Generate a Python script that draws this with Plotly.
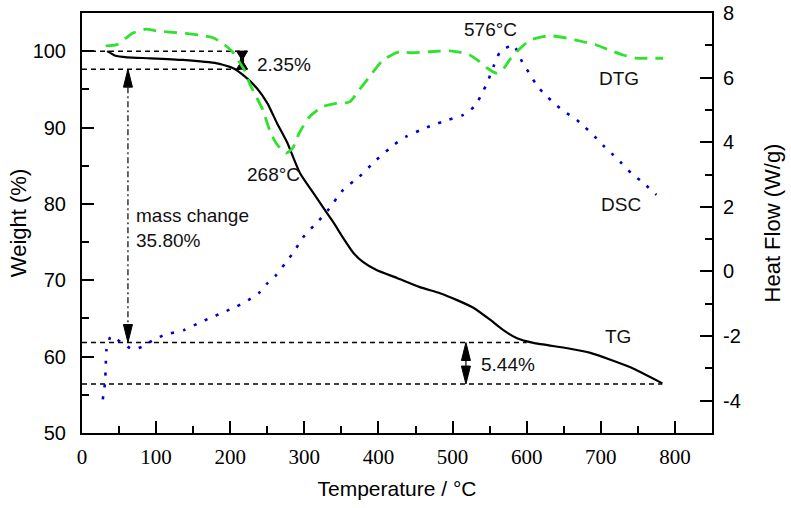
import plotly.graph_objects as go

# ---------------- data ----------------
tg_temp = [34, 45, 61, 92, 136, 182, 204, 220, 236, 250, 263, 277, 294, 313, 339,
           352, 366, 379, 398, 425, 456, 483, 506, 528, 551, 568, 587, 609, 655, 686,
           713, 740, 783]
tg_weight = [100.0, 99.4, 99.2, 99.07, 98.85, 98.4, 97.76, 96.66, 95.14, 93.2, 90.6, 88.0,
             84.05, 81.3, 77.6, 75.6, 73.6, 72.4, 71.3, 70.3, 69.1, 68.3, 67.4, 66.4,
             64.8, 63.5, 62.4, 61.8, 61.1, 60.5, 59.6, 58.6, 56.5]

dtg_temp = [32, 48, 59, 68, 86, 100, 122, 140, 158, 176, 190, 203, 212, 219, 226, 235,
            244, 253, 262, 275, 284, 293, 307, 325, 343, 361, 374, 388, 406, 428, 442,
            469, 496, 509, 523, 536, 547, 559, 566, 578, 591, 604, 622, 635, 654, 676,
            694, 712, 730, 748, 762, 784]
dtg_value = [6.98, 7.03, 7.22, 7.37, 7.50, 7.45, 7.40, 7.37, 7.32, 7.24, 7.06, 6.80, 6.49,
             6.24, 5.82, 5.41, 5.00, 4.38, 3.97, 3.66, 3.81, 4.28, 4.79, 5.10, 5.20, 5.25,
             5.62, 6.03, 6.54, 6.80, 6.77, 6.80, 6.83, 6.79, 6.70, 6.50, 6.29, 6.14, 6.20,
             6.58, 6.90, 7.15, 7.27, 7.29, 7.22, 7.11, 7.01, 6.85, 6.70, 6.60, 6.60, 6.60]

dsc_temp = [28, 31, 32, 33, 39, 52, 68, 81, 100, 118, 138, 158, 174, 192, 208, 224, 239,
            250, 262, 274, 286, 298, 320, 332, 352, 374, 397, 422, 437, 457, 473, 494,
            514, 530, 540, 547, 555, 564, 582, 594, 605, 615, 628, 640, 651, 665, 678,
            692, 705, 717, 728, 741, 757, 775]
dsc_value = [-3.96, -3.46, -2.95, -2.43, -2.0, -2.18, -2.41, -2.33, -2.07, -1.92, -1.81,
             -1.59, -1.43, -1.25, -1.09, -0.89, -0.66, -0.37, -0.11, 0.25, 0.61, 1.05,
             1.59, 1.90, 2.52, 2.93, 3.45, 3.94, 4.17, 4.38, 4.53, 4.69, 4.84, 5.12, 5.52,
             5.86, 6.33, 6.79, 7.01, 6.48, 6.08, 5.71, 5.40, 5.15, 4.94, 4.74, 4.48, 4.17,
             3.86, 3.60, 3.35, 3.04, 2.75, 2.37]

# axis ticks
x_ticks = [0, 100, 200, 300, 400, 500, 600, 700, 800]
y_ticks = [50, 60, 70, 80, 90, 100]
y2_ticks = [-4, -2, 0, 2, 4, 6, 8]
y2_tick_labels = ["-4", "-2", "0", "2", "4", "6", "8"]

# dashed reference levels (weight %) and where they end (temperature)
ref_levels = [100.0, 97.65, 61.85, 56.41]
ref_end_temp = [223, 223, 600, 783]

# measurement arrows: temperature, upper level, lower level, head direction
arrow_temp = [216, 62, 518]
arrow_hi = [100.0, 97.65, 61.85]
arrow_lo = [97.65, 61.85, 56.41]
arrow_kind = ["inward", "outward", "outward"]
arrow_stem = ["none", "dashdot", "solid"]

# text labels
label_text = ["2.35%", "268°C", "mass change<br>35.80%", "576°C", "DTG", "DSC", "TG", "5.44%"]
label_temp = [272, 258, 70, 551, 724, 727, 723, 575]
label_weight = [98.2, 83.9, 76.8, 102.8, 96.4, 79.9, 62.7, 59.0]
label_anchor = ["center", "center", "left", "center", "center", "center", "center", "center"]

x_range = [0, 850]
y_range = [50, 105]
y2_range = [-5, 8]

# ---------------- figure ----------------
W, H = 791, 508
ML, MR, MT, MB = 82, 79, 13, 75
px_per_T = (W - ML - MR) / (x_range[1] - x_range[0])
px_per_W = (H - MT - MB) / (y_range[1] - y_range[0])

fig = go.Figure()

# reference dashed lines
for lvl, xe in zip(ref_levels, ref_end_temp):
    fig.add_trace(go.Scatter(x=[x_range[0], xe], y=[lvl, lvl], mode="lines",
                             line=dict(color="black", width=1.5, dash="5px,4px"),
                             hoverinfo="skip", showlegend=False))

# DSC (blue dotted) and DTG (green dashed) on the right axis
fig.add_trace(go.Scatter(x=dsc_temp, y=dsc_value, yaxis="y2", mode="lines",
                         line=dict(color="#0000cc", width=2.6, dash="3px,9px", shape="spline", smoothing=0.5),
                         name="DSC", showlegend=False))
fig.add_trace(go.Scatter(x=dtg_temp, y=dtg_value, yaxis="y2", mode="lines",
                         line=dict(color="#2ee22e", width=2.8, dash="13px,8px", shape="spline", smoothing=0.6),
                         name="DTG", showlegend=False))

# TG (black solid)
fig.add_trace(go.Scatter(x=tg_temp, y=tg_weight, mode="lines",
                         line=dict(color="black", width=2.2, shape="spline", smoothing=0.5),
                         name="TG", showlegend=False))

# arrows built from arrow data
head_len_px = 18
head_half_px = 4.5
for xt, hi, lo, kind, stem in zip(arrow_temp, arrow_hi, arrow_lo, arrow_kind, arrow_stem):
    hw = head_half_px / px_per_T
    if kind == "inward":
        L = (hi - lo) / 2
        hw = 5.5 / px_per_T
        tris = [(hi, hi - L), (lo, lo + L)]  # (base, tip)
    else:
        L = head_len_px / px_per_W
        tris = [(hi - L, hi), (lo + L, lo)]
    for base, tip in tris:
        fig.add_trace(go.Scatter(x=[xt - hw, xt + hw, xt, xt - hw], y=[base, base, tip, base],
                                 mode="lines", fill="toself", fillcolor="black",
                                 line=dict(color="black", width=1), hoverinfo="skip",
                                 showlegend=False))
    if stem == "dashdot":
        fig.add_trace(go.Scatter(x=[xt, xt], y=[hi - L, lo + L], mode="lines",
                                 line=dict(color="black", width=1.2, dash="6px,3px,2px,3px"),
                                 hoverinfo="skip", showlegend=False))
    elif stem == "solid":
        fig.add_trace(go.Scatter(x=[xt, xt], y=[hi - L, lo + L], mode="lines",
                                 line=dict(color="black", width=1.2),
                                 hoverinfo="skip", showlegend=False))
    else:
        fig.add_trace(go.Scatter(x=[xt, xt], y=[hi, lo], mode="lines",
                                 line=dict(color="black", width=4),
                                 hoverinfo="skip", showlegend=False))

sans = "Liberation Sans, Arial, sans-serif"
serif = "Liberation Serif, Times New Roman, serif"

annotations = []
for t, xv, yv, anc in zip(label_text, label_temp, label_weight, label_anchor):
    annotations.append(dict(text=t, x=xv, y=yv, xref="x", yref="y", showarrow=False,
                            xanchor=anc, yanchor="middle", align="left",
                            font=dict(family=sans, size=19, color="#111111")))

fig.update_layout(
    width=W, height=H,
    margin=dict(l=ML, r=MR, t=MT, b=MB, pad=0, autoexpand=False),
    paper_bgcolor="white", plot_bgcolor="white",
    showlegend=False,
    annotations=annotations,
    xaxis=dict(range=x_range, tickmode="array", tickvals=x_ticks, showgrid=False, zeroline=False,
               automargin=False,
               showline=True, linecolor="black", linewidth=2, mirror=True,
               ticks="inside", ticklen=12, tickwidth=2, tickcolor="black",
               minor=dict(ticks="inside", ticklen=7, tickwidth=2, tickcolor="black", dtick=50, tick0=0),
               tickfont=dict(family=serif, size=21, color="black"),
               ticklabelstandoff=4,
               title=dict(text="Temperature / °C", font=dict(family=sans, size=21, color="black"), standoff=13)),
    yaxis=dict(range=y_range, tickmode="array", tickvals=y_ticks, showgrid=False, zeroline=False,
               automargin=False,
               showline=True, linecolor="black", linewidth=2,
               ticks="inside", ticklen=12, tickwidth=2, tickcolor="black",
               minor=dict(ticks="inside", ticklen=7, tickwidth=2, tickcolor="black", dtick=5, tick0=0),
               tickfont=dict(family=sans, size=20, color="black"),
               ticklabelstandoff=10,
               title=dict(text="Weight (%)", font=dict(family=sans, size=22, color="black"), standoff=0)),
    yaxis2=dict(range=y2_range, tickmode="array", tickvals=y2_ticks, ticktext=y2_tick_labels,
                overlaying="y", side="right", automargin=False,
                showgrid=False, zeroline=False,
                showline=True, linecolor="black", linewidth=2,
                ticks="inside", ticklen=12, tickwidth=2, tickcolor="black",
                minor=dict(ticks="inside", ticklen=7, tickwidth=2, tickcolor="black", dtick=1, tick0=0),
                tickfont=dict(family=sans, size=20, color="black"),
                ticklabelstandoff=5,
                title=dict(text="Heat Flow (W/g)", font=dict(family=sans, size=22, color="black"), standoff=25)),
)

fig.write_html("out.html")
